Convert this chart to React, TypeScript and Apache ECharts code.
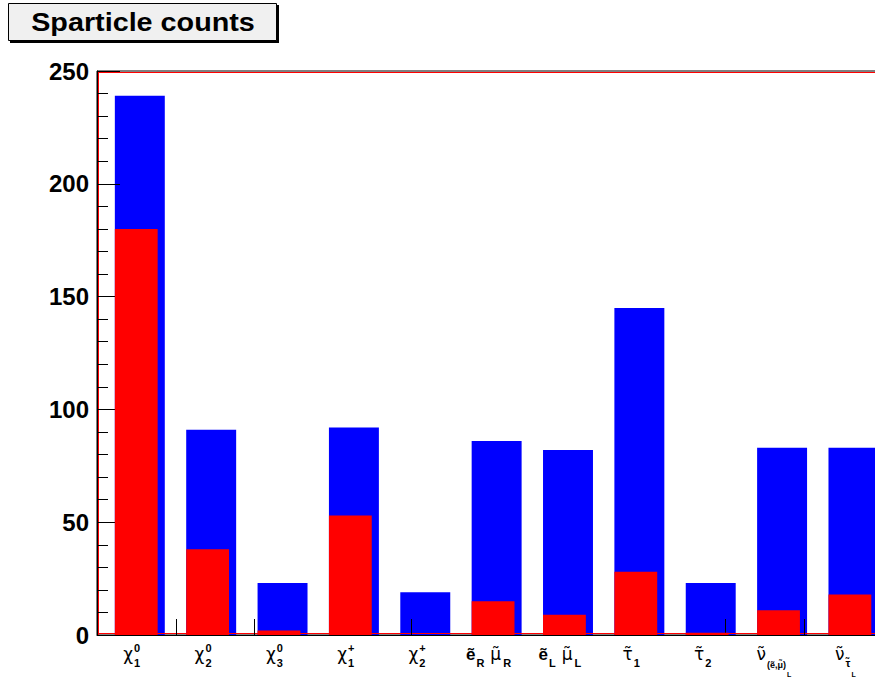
import React, { useEffect, useRef } from "react";
import * as echarts from "echarts";

// ---- data ----
const categories = ["χ1 0", "χ2 0", "χ3 0", "χ1 +", "χ2 +", "ẽR μ̃R", "ẽL μ̃L", "τ̃1", "τ̃2", "ν̃(ẽ,μ̃)L", "ν̃τ̃L"];
const blueCounts = [239, 91, 23, 92, 19, 86, 82, 145, 23, 83, 83];
const redCounts = [180, 38, 2, 53, 0, 15, 9, 28, 1, 11, 18];
const yTicks = [0, 50, 100, 150, 200, 250];

// label pieces (main glyph, superscript, subscript, sub-subscript, second glyph + its subscript)
const labelMain = ["χ", "χ", "χ", "χ", "χ", "ẽ", "ẽ", "τ̃", "τ̃", "ν̃", "ν̃"];
const labelSup = ["0", "0", "0", "+", "+", "", "", "", "", "", ""];
const labelSub = ["1", "2", "3", "1", "2", "R", "L", "1", "2", "(ẽ,μ̃)", "τ̃"];
const labelSubSub = ["", "", "", "", "", "", "", "", "", "L", "L"];
const labelMain2 = ["", "", "", "", "", "μ̃", "μ̃", "", "", "", ""];
const labelSub2 = ["", "", "", "", "", "R", "L", "", "", "", ""];

const titleText = "Sparticle counts";
const xDivisions = 10;

// ---- styles ----
const SANS = '"Liberation Sans", Arial, sans-serif';
const MAIN_FONT = { size: 17, weight: "normal", family: '"DejaVu Sans", sans-serif' };
const MAIN_BOLD = { size: 17, weight: "bold", family: SANS };
const SCRIPT = { size: 11, weight: "bold", family: SANS };
const SMALL_SCRIPT = { size: 9, weight: "bold", family: SANS };
const TINY = { size: 7, weight: "bold", family: SANS };

let ctx: CanvasRenderingContext2D | null = null;
function tw(text: string, f: any): number {
  if (!text) return 0;
  if (!ctx) ctx = document.createElement("canvas").getContext("2d");
  if (!ctx) return text.length * f.size * 0.6;
  ctx.font = `${f.weight} ${f.size}px ${f.family}`;
  return ctx.measureText(text).width;
}

function barRenderer(offsetFrac: number, widthFrac: number, color: string) {
  return (params: any, api: any) => {
    const idx = api.value(0);
    const v = api.value(1);
    const base = api.coord([idx, 0]);
    const top = api.coord([idx, v]);
    const bw = api.size([1, 0])[0];
    const x0 = base[0] - bw / 2 + offsetFrac * bw;
    return {
      type: "rect",
      shape: { x: x0, y: top[1], width: widthFrac * bw, height: base[1] - top[1] },
      style: { fill: color },
    };
  };
}

function textEl(x: number, y: number, text: string, f: any) {
  return {
    type: "text",
    x,
    y,
    style: {
      text,
      fontSize: f.size,
      fontWeight: f.weight,
      fontFamily: f.family,
      fill: "#000",
      align: "left",
      verticalAlign: "middle",
    },
  };
}

export default function App() {
  const ref = useRef<HTMLDivElement>(null);

  useEffect(() => {
    if (!ref.current) return;
    const chart = echarts.init(ref.current, null, { renderer: "svg" });

    const option: any = {
      animation: false,
      backgroundColor: "#ffffff",
      grid: {
        left: 97,
        top: 71,
        width: 785,
        height: 564,
        show: true,
        borderColor: "#000",
        borderWidth: 1,
        backgroundColor: "transparent",
        containLabel: false,
      },
      xAxis: {
        type: "category",
        data: categories,
        boundaryGap: true,
        z: 3,
        axisLine: { show: true, lineStyle: { color: "#000", width: 1 } },
        axisTick: { show: false },
        axisLabel: { show: false },
        splitLine: { show: false },
      },
      yAxis: {
        type: "value",
        min: yTicks[0],
        max: yTicks[yTicks.length - 1],
        interval: 50,
        z: 3,
        axisLine: { show: true, lineStyle: { color: "#000", width: 1 } },
        axisTick: { show: true, inside: true, length: 23, lineStyle: { color: "#000", width: 1 } },
        minorTick: { show: true, splitNumber: 5, length: 11, lineStyle: { color: "#000", width: 1 } },
        splitLine: { show: false },
        axisLabel: {
          margin: 8,
          color: "#000",
          fontSize: 24,
          fontWeight: "bold",
          fontFamily: SANS,
        },
      },
      graphic: [
        {
          type: "rect",
          shape: { x: 10, y: 5, width: 269, height: 38 },
          style: { fill: "#000" },
          z: 10,
        },
        {
          type: "rect",
          shape: { x: 8.5, y: 3.5, width: 268, height: 37 },
          style: { fill: "#f0f0f0", stroke: "#000", lineWidth: 1 },
          z: 11,
        },
        {
          type: "text",
          x: 143,
          y: 23,
          scaleX: 1.15,
          z: 12,
          style: {
            text: titleText,
            fontSize: 25,
            fontWeight: "bold",
            fontFamily: SANS,
            fill: "#000",
            align: "center",
            verticalAlign: "middle",
          },
        },
      ],
      series: [
        {
          type: "custom",
          name: "all",
          z: 2,
          data: blueCounts.map((v, i) => [i, v]),
          encode: { x: 0, y: 1 },
          renderItem: barRenderer(0.25, 0.7, "#0000ff"),
        },
        {
          type: "custom",
          name: "frame",
          z: 3,
          data: [[0, 0]],
          encode: { x: 0, y: 1 },
          renderItem: (params: any, api: any) => {
            const cs = params.coordSys;
            const x0 = cs.x;
            const x1 = cs.x + cs.width;
            const yT = cs.y;
            const yB = cs.y + cs.height;
            const children: any[] = [
              { type: "line", shape: { x1: x0, y1: yT + 1.5, x2: x1, y2: yT + 1.5 }, style: { stroke: "#ff0000", lineWidth: 1 } },
              { type: "line", shape: { x1: x0 + 1.5, y1: yT, x2: x0 + 1.5, y2: yB }, style: { stroke: "#ff0000", lineWidth: 1 } },
              { type: "line", shape: { x1: x0, y1: yB - 1.5, x2: x1, y2: yB - 1.5 }, style: { stroke: "#ff0000", lineWidth: 1 } },
            ];
            for (let k = 1; k < xDivisions; k++) {
              const x = Math.round(x0 + (k * cs.width) / xDivisions) + 0.5;
              children.push({
                type: "line",
                shape: { x1: x, y1: yB, x2: x, y2: yB - 16 },
                style: { stroke: "#000", lineWidth: 1 },
              });
            }
            return { type: "group", children };
          },
        },
        {
          type: "custom",
          name: "selected",
          z: 4,
          data: redCounts.map((v, i) => [i, v]),
          encode: { x: 0, y: 1 },
          renderItem: barRenderer(0.25, 0.6, "#ff0000"),
        },
        {
          type: "custom",
          name: "labels",
          z: 5,
          clip: false,
          data: categories.map((c, i) => [i, 0]),
          encode: { x: 0, y: 1 },
          renderItem: (params: any, api: any) => {
            const i = api.value(0);
            const [cx, y0] = api.coord([i, 0]);
            const parts: any[] = [];
            let x = 0;
            const mf = labelMain[i] === "ẽ" ? MAIN_BOLD : MAIN_FONT;
            parts.push({ t: labelMain[i], x, y: 19, f: mf });
            x += tw(labelMain[i], mf) + 1;
            const subF = labelSub[i].length > 2 ? SMALL_SCRIPT : SCRIPT;
            const supW = tw(labelSup[i], SCRIPT);
            const subW = tw(labelSub[i], subF);
            if (labelSup[i]) parts.push({ t: labelSup[i], x, y: 13, f: SCRIPT });
            parts.push({ t: labelSub[i], x, y: labelSub[i].length > 2 ? 30 : 28, f: subF });
            let colW = Math.max(supW, subW);
            if (labelSubSub[i]) {
              parts.push({ t: labelSubSub[i], x: x + subW + 1, y: 39, f: TINY });
              colW = subW + 1 + tw(labelSubSub[i], TINY);
            }
            x += colW;
            if (labelMain2[i]) {
              x += 6;
              parts.push({ t: labelMain2[i], x, y: 19, f: MAIN_FONT });
              x += tw(labelMain2[i], MAIN_FONT) + 2;
              parts.push({ t: labelSub2[i], x, y: 28, f: SCRIPT });
              x += tw(labelSub2[i], SCRIPT);
            }
            const start = cx - x / 2 - 1;
            return {
              type: "group",
              children: parts.map((p) => textEl(start + p.x, y0 + p.y, p.t, p.f)),
            };
          },
        },
      ],
    };

    chart.setOption(option);
    return () => {
      chart.dispose();
    };
  }, []);

  return (
    <div style={{ position: "absolute", left: 0, top: 0, width: 875, height: 679, overflow: "hidden", background: "#fff" }}>
      <div ref={ref} style={{ width: 900, height: 679 }} />
    </div>
  );
}
